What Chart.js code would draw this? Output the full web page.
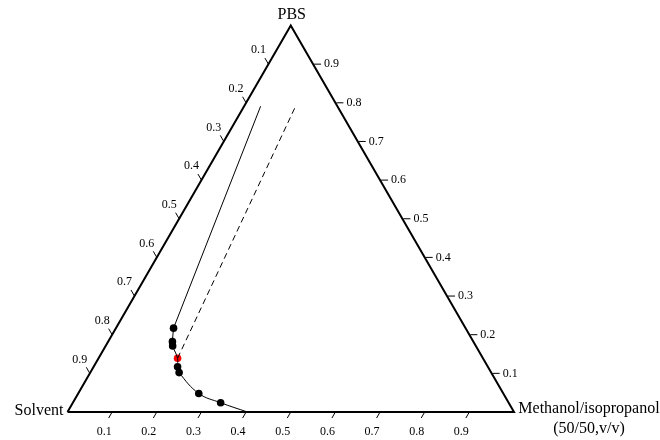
<!DOCTYPE html>
<html>
<head>
<meta charset="utf-8">
<script src="https://cdn.jsdelivr.net/npm/chart.js@4.4.0/dist/chart.umd.min.js"></script>
<style>
  html, body { margin: 0; padding: 0; background: #fff; }
  #wrap { width: 660px; height: 440px; }
</style>
</head>
<body>
<div id="wrap"><canvas id="chart"></canvas></div>
<script>
// axis ticks (same on all three sides)
const tickValues = [0.1, 0.2, 0.3, 0.4, 0.5, 0.6, 0.7, 0.8, 0.9];
const tickLabels = ["0.1", "0.2", "0.3", "0.4", "0.5", "0.6", "0.7", "0.8", "0.9"];

// binodal data points, mass fractions
const binodalMethanol = [0.129, 0.144, 0.150, 0.188, 0.199, 0.270, 0.331];
const binodalPBS = [0.217, 0.182, 0.171, 0.117, 0.102, 0.048, 0.024];

// red point on the curve
const redMethanol = [0.177];
const redPBS = [0.139];

// where the fitted curve meets the base
const curveEndMethanol = [0.403];
const curveEndPBS = [0.0];

// solid and dashed lines (start, end)
const solidMethanol = [0.129, 0.037];
const solidPBS = [0.217, 0.791];
const dashedMethanol = [0.177, 0.115];
const dashedPBS = [0.139, 0.794];

const H = Math.sqrt(3) / 2;

// ternary (methanol, pbs) -> x/y of the drawing
function toXY(m, p) {
  return { x: m + p / 2, y: p * H };
}
function pairs(ms, ps) {
  return ms.map((m, i) => toXY(m, ps[i]));
}

const corners = pairs([0, 1, 0, 0], [0, 0, 1, 0]);

// curve goes top -> bottom through all points
const curvePts = pairs(
  binodalMethanol.concat(redMethanol, curveEndMethanol),
  binodalPBS.concat(redPBS, curveEndPBS)
).sort((a, b) => b.y - a.y);

const FONT = "'Liberation Serif', 'Times New Roman', serif";

const ternaryAxes = {
  id: "ternaryAxes",
  afterDatasetsDraw(chart) {
    const ctx = chart.ctx;
    const xs = chart.scales.x, ys = chart.scales.y;
    const px = (pt) => [xs.getPixelForValue(pt.x), ys.getPixelForValue(pt.y)];
    const len = 7;
    ctx.save();
    ctx.strokeStyle = "#000";
    ctx.fillStyle = "#000";
    ctx.lineWidth = 1;
    ctx.font = "12px " + FONT;

    tickValues.forEach((v, i) => {
      // bottom: methanol
      let [x, y] = px(toXY(v, 0));
      ctx.beginPath();
      ctx.moveTo(x, y);
      ctx.lineTo(x - 0.5 * len, y + H * len);
      ctx.stroke();
      ctx.textAlign = "center";
      ctx.textBaseline = "middle";
      ctx.fillText(tickLabels[i], x - 8, y + 20);

      // left: solvent
      [x, y] = px(toXY(0, 1 - v));
      ctx.beginPath();
      ctx.moveTo(x, y);
      ctx.lineTo(x - 0.5 * len, y - H * len);
      ctx.stroke();
      ctx.fillText(tickLabels[i], x - 10, y - 14);

      // right: PBS
      [x, y] = px(toXY(1 - v, v));
      ctx.beginPath();
      ctx.moveTo(x + 1, y);
      ctx.lineTo(x + 1 + len, y);
      ctx.stroke();
      ctx.textAlign = "left";
      ctx.fillText(tickLabels[i], x + 11, y);
    });

    // corner names
    ctx.font = "16px " + FONT;
    let [x, y] = px(corners[2]);
    ctx.textAlign = "center";
    ctx.textBaseline = "middle";
    ctx.fillText("PBS", x + 1, y - 11);

    [x, y] = px(corners[0]);
    ctx.textAlign = "right";
    ctx.fillText("Solvent", x - 4, y - 1);

    [x, y] = px(corners[1]);
    ctx.textAlign = "center";
    ctx.fillText("Methanol/isopropanol", x + 75, y - 3);
    ctx.fillText("(50/50,v/v)", x + 75, y + 17);
    ctx.restore();
  }
};

new Chart(document.getElementById("chart"), {
  type: "scatter",
  data: {
    datasets: [
      {
        label: "triangle",
        data: corners,
        showLine: true,
        borderColor: "#000",
        borderWidth: 2,
        borderJoinStyle: "miter",
        pointRadius: 0,
        clip: false
      },
      {
        label: "curve",
        data: curvePts,
        showLine: true,
        tension: 0.4,
        borderColor: "#000",
        borderWidth: 1,
        pointRadius: 0,
        clip: false
      },
      {
        label: "solid",
        data: pairs(solidMethanol, solidPBS),
        showLine: true,
        borderColor: "#000",
        borderWidth: 1,
        pointRadius: 0
      },
      {
        label: "dashed",
        data: pairs(dashedMethanol, dashedPBS),
        showLine: true,
        borderColor: "#000",
        borderWidth: 1,
        borderDash: [6, 4],
        pointRadius: 0
      },
      {
        label: "binodal",
        data: pairs(binodalMethanol, binodalPBS),
        pointRadius: 3.8,
        backgroundColor: "#000",
        borderColor: "#000",
        borderWidth: 0
      },
      {
        label: "red",
        data: pairs(redMethanol, redPBS),
        pointRadius: 3.8,
        backgroundColor: "#ff0000",
        borderColor: "#ff0000",
        borderWidth: 0
      }
    ]
  },
  options: {
    responsive: true,
    maintainAspectRatio: false,
    animation: false,
    layout: { padding: { left: 67.5, right: 146, top: 25.5, bottom: 28 } },
    scales: {
      x: { type: "linear", min: 0, max: 1, display: false },
      y: { type: "linear", min: 0, max: H, display: false }
    },
    plugins: {
      legend: { display: false },
      tooltip: { enabled: false }
    }
  },
  plugins: [ternaryAxes]
});
</script>
</body>
</html>
